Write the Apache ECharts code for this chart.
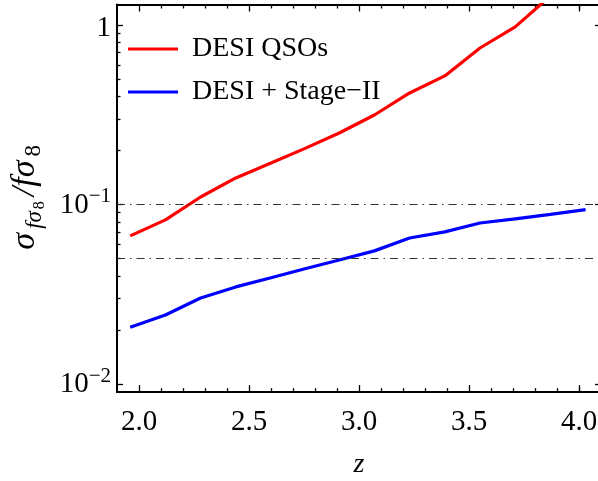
<!DOCTYPE html>
<html><head><meta charset="utf-8">
<script src="https://cdn.jsdelivr.net/npm/echarts@6/dist/echarts.min.js"></script>
<style>html,body{margin:0;padding:0;background:#fff}#c{width:598px;height:481px}</style>
</head><body><div id="c"></div>
<script>
// ---- data ----
const redshift   = [1.96, 2.12, 2.28, 2.44, 2.60, 2.75, 2.91, 3.07, 3.23, 3.39, 3.55, 3.71, 3.87, 4.03];
const desiQSO    = [0.0668, 0.082, 0.110, 0.1405, 0.170, 0.204, 0.25, 0.315, 0.418, 0.52, 0.744, 0.975, 1.45];
const desiStage2 = [0.0207, 0.0242, 0.0301, 0.0347, 0.039, 0.0437, 0.049, 0.0551, 0.065, 0.0703, 0.0788, 0.083, 0.088, 0.0935];
const seriesNames = ['DESI QSOs', 'DESI + Stage\u2212II'];
const refLevels = [0.1, 0.05];
const xMajor = [2.0, 2.5, 3.0, 3.5, 4.0];
const xMinor = [2.1, 2.2, 2.3, 2.4, 2.6, 2.7, 2.8, 2.9, 3.1, 3.2, 3.3, 3.4, 3.6, 3.7, 3.8, 3.9, 4.0];
const yMajor = [0.01, 0.1, 1];
const yMinor = [0.02, 0.03, 0.04, 0.05, 0.06, 0.07, 0.08, 0.09, 0.2, 0.3, 0.4, 0.5, 0.6, 0.7, 0.8, 0.9];
const xRange = [1.9, 4.1];
const yRange = [0.009, 1.3];

const FONT = 'Liberation Serif';
const pairs = (xs, ys) => ys.map((v, i) => [xs[i], v]);

const tickStyle = {color: '#000', width: 1.3};
function xAx(pos, ticks, len, withLine, withLabel) {
  const a = {
    type: 'value', position: pos, min: xRange[0], max: xRange[1],
    axisLine: {show: withLine, onZero: false, lineStyle: {color: '#000', width: 2}},
    axisTick: {show: true, inside: true, length: len, customValues: ticks, lineStyle: tickStyle},
    axisLabel: {show: false},
    splitLine: {show: false}
  };
  if (withLabel) {
    a.axisLabel = {show: true, customValues: xMajor, formatter: v => Number(v).toFixed(1),
      fontFamily: FONT, fontSize: 29, color: '#000', margin: 16};
    a.name = 'z';
    a.nameLocation = 'middle';
    a.nameGap = 59;
    a.nameTextStyle = {fontFamily: FONT, fontStyle: 'italic', fontSize: 28, color: '#000'};
  }
  return a;
}
function yAx(pos, ticks, len, withLine, withLabel) {
  const a = {
    type: 'log', logBase: 10, position: pos, min: yRange[0], max: yRange[1],
    axisLine: {show: withLine, onZero: false, lineStyle: {color: '#000', width: 2}},
    axisTick: {show: true, inside: true, length: len, customValues: ticks, lineStyle: tickStyle},
    axisLabel: {show: false},
    splitLine: {show: false}
  };
  if (withLabel) {
    a.axisLabel = {
      show: true, customValues: yMajor, margin: 6, color: '#000',
      formatter: v => {
        const e = Math.round(Math.log10(v));
        return e === 0 ? '{o|1}' : '{n|10}{e|\u2212' + (-e) + '}';
      },
      rich: {
        o: {fontFamily: FONT, fontSize: 29, lineHeight: 36, padding: [7, 0, 0, 0], color: '#000'},
        n: {fontFamily: FONT, fontSize: 29, lineHeight: 36, padding: [2, 0, 0, 0], color: '#000'},
        e: {fontFamily: FONT, fontSize: 21, lineHeight: 21, verticalAlign: 'top', color: '#000'}
      }
    };
    a.name = '{m|\u03c3}{s|f\u03c3}{ss|8}{m|/f\u03c3}{t|8}';
    a.nameLocation = 'middle';
    a.nameRotate = 90;
    a.nameGap = 68;
    a.nameTextStyle = {
      rich: {
        m:  {fontFamily: FONT, fontStyle: 'italic', fontSize: 34, lineHeight: 48, padding: [0, 3, 0, 2], color: '#000'},
        s:  {fontFamily: FONT, fontStyle: 'italic', fontSize: 23, lineHeight: 23, verticalAlign: 'top', padding: [22, 1, 0, 1], color: '#000'},
        ss: {fontFamily: FONT, fontSize: 16, lineHeight: 16, verticalAlign: 'top', padding: [31, 3, 0, 1], color: '#000'},
        t:  {fontFamily: FONT, fontSize: 23, lineHeight: 23, verticalAlign: 'top', padding: [21, 0, 0, 1], color: '#000'}
      }
    };
  }
  return a;
}

const chart = echarts.init(document.getElementById('c'), null, {renderer: 'canvas'});
chart.setOption({
  animation: false,
  backgroundColor: '#fff',
  grid: {left: 117, top: 4.5, width: 484, height: 387.6, containLabel: false, outerBoundsMode: 'none'},
  xAxis: [
    xAx('bottom', xMajor, 7, true, true),
    xAx('bottom', xMinor, 4, false, false),
    xAx('top', xMajor, 7, true, false),
    xAx('top', xMinor, 4, false, false)
  ],
  yAxis: [
    yAx('left', yMajor, 6, true, true),
    yAx('left', yMinor, 3.5, false, false),
    yAx('right', yMajor, 6, true, false)
  ],
  legend: {
    orient: 'vertical', left: 128, top: 35, padding: 0, itemGap: 15,
    icon: 'rect', itemWidth: 50, itemHeight: 3, selectedMode: false,
    textStyle: {fontFamily: FONT, fontSize: 28, color: '#000', padding: [0, 0, 0, 9]},
    data: seriesNames
  },
  series: [
    {
      name: seriesNames[0], type: 'line', xAxisIndex: 0, yAxisIndex: 0,
      data: pairs(redshift, desiQSO), symbol: 'none', smooth: false, clip: true,
      lineStyle: {color: '#ff0000', width: 3.2}, itemStyle: {color: '#ff0000'}
    },
    {
      name: seriesNames[1], type: 'line', xAxisIndex: 0, yAxisIndex: 0,
      data: pairs(redshift, desiStage2), symbol: 'none', smooth: false, clip: true,
      lineStyle: {color: '#0000ff', width: 3.2}, itemStyle: {color: '#0000ff'},
      markLine: {
        silent: true, symbol: ['none', 'none'], label: {show: false},
        lineStyle: {color: '#333', width: 1, type: [8, 5, 1.5, 5]},
        data: refLevels.map(v => ({yAxis: v}))
      }
    }
  ]
});
</script></body></html>
